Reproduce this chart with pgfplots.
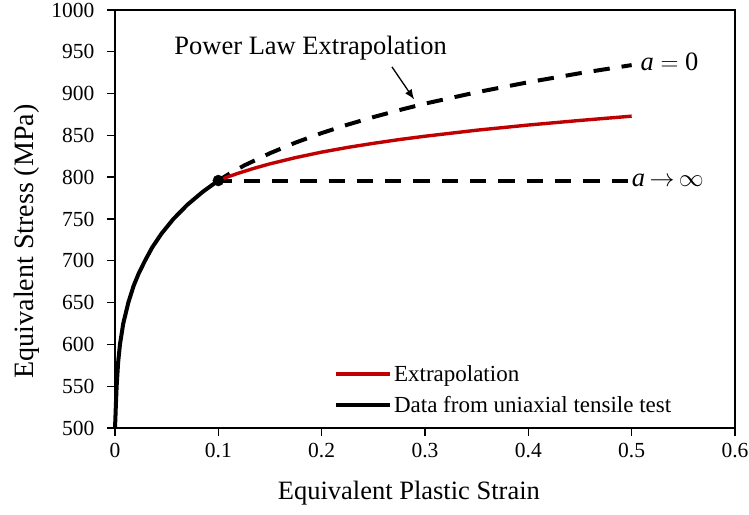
\documentclass[border=0pt]{standalone}
\usepackage{fontspec}
\setmainfont{Liberation Serif}
\usepackage{pgfplots}
\pgfplotsset{compat=1.18}
\usetikzlibrary{arrows.meta}
\definecolor{exred}{RGB}{192,0,0}
\begin{document}
\begin{tikzpicture}
\begin{axis}[
  scale only axis,
  width=620pt, height=418pt,
  xmin=0, xmax=0.6, ymin=500, ymax=1000,
  xtick={0,0.1,0.2,0.3,0.4,0.5,0.6},
  ytick={500,550,600,650,700,750,800,850,900,950,1000},
  xticklabels={0,0.1,0.2,0.3,0.4,0.5,0.6},
  axis line style={line width=1.4pt},
  tick style={line width=1.4pt, black},
  tick align=outside,
  major tick length=8pt,
  xtick pos=bottom, ytick pos=left,
  /pgf/number format/assume math mode=true,
  /pgf/number format/1000 sep={},
  ticklabel style={font=\fontsize{21.5}{24}\selectfont},
  xticklabel shift=4pt,
  yticklabel shift=9pt,
  xlabel={Equivalent Plastic Strain},
  ylabel={Equivalent Stress (MPa)},
  xlabel style={font=\fontsize{26.5}{30}\selectfont, at={(axis description cs:0.474,-0.172)}, anchor=base},
  ylabel style={font=\fontsize{28}{32}\selectfont, at={(axis description cs:-0.132,0.4466)}, anchor=base, rotate=0},
  legend style={draw=none, fill=none, at={(axis description cs:0.353,0.155)}, anchor=north west,
    font=\fontsize{23}{27}\selectfont, row sep=9pt, inner sep=0pt,
    /tikz/every even column/.append style={column sep=0pt}},
  legend cell align=left,
  legend image code/.code={\draw[#1] (0pt,0pt) -- (54pt,0pt);},
  clip=false,
]
% power law extrapolation (a = 0)
\addplot[black, line width=4pt, dash pattern=on 16.3pt off 12pt, dash phase=3pt, forget plot] coordinates {
(0.1,796) (0.11,803.6) (0.125,814) (0.15,828.7) (0.175,841.5) (0.2,852.8) (0.225,862.8) (0.25,871.9) (0.275,880.2) (0.3,888.0)
(0.35,901.6) (0.4,913.6) (0.45,924.4) (0.5,934.1)};
% a -> infinity
\addplot[black, line width=4pt, dash pattern=on 16.3pt off 12pt, dash phase=3pt, forget plot] coordinates {
(0.1,796) (0.5,796)};
% extrapolation
\addplot[exred, line width=3.4pt] coordinates {
(0.1,796) (0.11,800.8) (0.12,805) (0.135,810.8) (0.15,816) (0.175,823.5) (0.2,830) (0.225,835.6) (0.25,840.5) (0.275,845) (0.3,849) (0.35,856.2)
(0.4,862.4) (0.45,867.9) (0.5,873)};
\addlegendentry{Extrapolation}
% data
\addplot[black, line width=4pt] coordinates {
(0,500) (0.0004,512) (0.0008,526) (0.0016,550) (0.003,578) (0.0048,600) (0.008,625)
(0.0129,650) (0.018,670) (0.023,685) (0.029,700) (0.036,716) (0.045,732.5)
(0.0565,750) (0.07,767) (0.085,782.6) (0.1,796)};
\addlegendentry{Data from uniaxial tensile test}
% point
\addplot[only marks, mark=*, mark size=5.5pt, black, forget plot] coordinates {(0.1,796)};
% annotations
\node[anchor=base, font=\fontsize{26.5}{30}\selectfont, inner sep=0pt] at (axis cs:0.1893,946.4) {Power Law Extrapolation};
\draw[-{Latex[length=10pt,width=8pt]}, line width=1.3pt] (axis cs:0.268,932) -- (axis cs:0.2895,893);
\node[anchor=base west, font=\fontsize{26.5}{30}\selectfont, inner sep=0pt] at (axis cs:0.5085,928) {\textit{a} $=$ 0};
\node[anchor=base west, font=\fontsize{26.5}{30}\selectfont, inner sep=0pt] at (axis cs:0.5,789.3) {\textit{a}\,$\rightarrow$\,$\infty$};
\end{axis}
\pgfresetboundingbox
\path ([shift={(-115pt,-86pt)}]current axis.south west) rectangle ([shift={(14pt,10pt)}]current axis.north east);
\end{tikzpicture}
\end{document}
